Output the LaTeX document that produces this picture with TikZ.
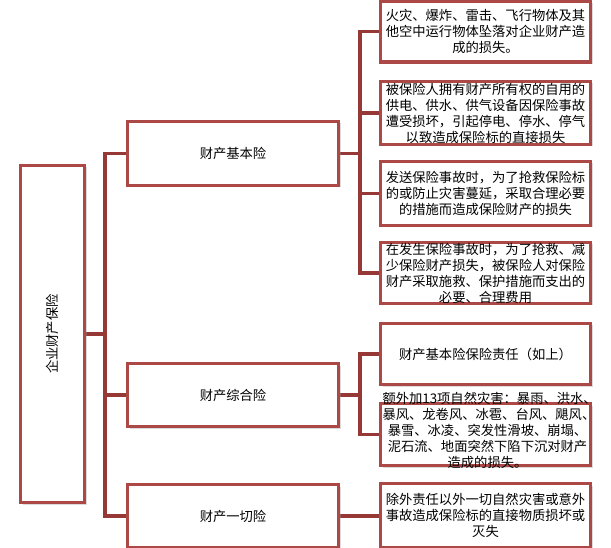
\documentclass[tikz,border=0pt]{standalone}
\usepackage{fontspec}
\setmainfont{Noto Sans CJK SC}
\usepackage{graphicx}
\usetikzlibrary{shadows}
\definecolor{bord}{RGB}{172,72,70}
\definecolor{conncol}{RGB}{150,56,53}
\pgfdeclarelayer{bg}
\pgfdeclarelayer{lines}
\pgfsetlayers{bg,lines,main}
\begin{document}
\begin{tikzpicture}[x=1pt,y=-1pt,
  box/.style={draw=bord, line width=3.5pt, fill=white, inner sep=0pt,
    drop shadow={shadow xshift=2pt, shadow yshift=-2pt, fill=black!40, opacity=0.35},
    font=\fontsize{13.3}{16}\selectfont},
  mbox/.style={box, minimum width=211pt, minimum height=64pt},
  rbox/.style={box, minimum width=210pt, text width=206pt, align=center},
  conn/.style={draw=conncol, line width=3.2pt}]
\begin{pgfonlayer}{bg}
\fill[white] (0,0) rectangle (611,548);
\end{pgfonlayer}
\useasboundingbox (0,0) rectangle (611,548);

\node[box, minimum width=64pt, minimum height=337pt] (L) at (52.5,334) {\rotatebox{90}{企业财产保险}};
\node[mbox] (M1) at (233,153.5) {财产基本险};
\node[mbox, minimum height=63pt] (M2) at (233,395) {财产综合险};
\node[mbox, minimum height=63pt] (M3) at (233,516) {财产一切险};

\node[rbox, minimum height=61pt] (R1) at (485.5,31.5) {火灾、爆炸、雷击、飞行物体及其\\他空中运行物体坠落对企业财产造\\成的损失。};
\node[rbox, minimum height=63pt] (R2) at (485.5,113) {被保险人拥有财产所有权的自用的\\供电、供水、供气设备因保险事故\\遭受损坏，引起停电、停水、停气\\以致造成保险标的直接损失};
\node[rbox, minimum height=64pt] (R3) at (485.5,193.5) {发送保险事故时，为了抢救保险标\\的或防止灾害蔓延，采取合理必要\\的措施而造成保险财产的损失};
\node[rbox, minimum height=61pt] (R4) at (485.5,273) {在发生保险事故时，为了抢救、减\\少保险财产损失，被保险人对保险\\财产采取施救、保护措施而支出的\\必要、合理费用};
\node[rbox, minimum height=61pt] (R5) at (485.5,354) {财产基本险保险责任（如上）};
\node[rbox, minimum height=62pt] (R6) at (485.5,434.5) {\smash{\parbox[c]{210pt}{\centering 额外加13项自然灾害：暴雨、洪水、\\暴风、龙卷风、冰雹、台风、飓风、\\暴雪、冰凌、突发性滑坡、崩塌、\\泥石流、地面突然下陷下沉对财产\\造成的损失。}}};
\node[rbox, minimum height=64pt] (R7) at (485.5,515.5) {除外责任以外一切自然灾害或意外\\事故造成保险标的直接物质损坏或\\灭失};

\coordinate (b1) at (105,334);
\coordinate (c1) at (360,0);
\begin{pgfonlayer}{lines}
\draw[conn] (L.east) -- (b1);
\draw[conn] (M1.west) -| (b1) |- (M3.west);
\draw[conn] (M2.west) -- (M2.west -| b1);
\draw[conn] (M1.east) -- (M1.east -| c1);
\draw[conn] (R1.west) -| (c1 |- R4.west) -- (R4.west);
\draw[conn] (R2.west) -- (R2.west -| c1);
\draw[conn] (R3.west) -- (R3.west -| c1);
\draw[conn] (M2.east) -- (M2.east -| c1);
\draw[conn] (R5.west) -| (c1 |- R6.west) -- (R6.west);
\draw[conn] (M3.east) -- (M3.east -| R7.west);
\end{pgfonlayer}
\end{tikzpicture}
\end{document}
